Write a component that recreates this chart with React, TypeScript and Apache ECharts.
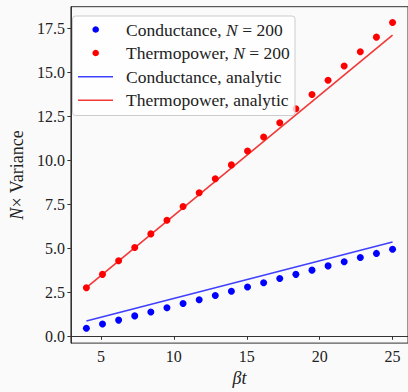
import React, { useEffect, useRef } from "react";
import * as echarts from "echarts";

const betaT = [4, 5.105, 6.211, 7.316, 8.421, 9.526, 10.632, 11.737, 12.842, 13.947, 15.053, 16.158, 17.263, 18.368, 19.474, 20.579, 21.684, 22.789, 23.895, 25];
const conductanceN200 = [0.46, 0.7, 0.92, 1.16, 1.38, 1.62, 1.86, 2.08, 2.32, 2.56, 2.8, 3.04, 3.28, 3.52, 3.76, 4.0, 4.24, 4.48, 4.71, 4.95];
const thermopowerN200 = [2.76, 3.52, 4.29, 5.05, 5.82, 6.59, 7.38, 8.16, 8.95, 9.74, 10.53, 11.33, 12.14, 12.93, 13.74, 14.55, 15.36, 16.17, 17.0, 17.83];
const analyticT = [4, 25];
const conductanceAnalytic = [0.87, 5.36];
const thermopowerAnalytic = [2.76, 17.11];
const xTicks = [5, 10, 15, 20, 25];
const yTicks = [0, 2.5, 5, 7.5, 10, 12.5, 15, 17.5];
const legendLabels = ["Conductance, {i|N} = 200", "Thermopower, {i|N} = 200", "Conductance, analytic", "Thermopower, analytic"];

const FONT = "Liberation Serif, Times New Roman, serif";
const TXT = "#222";
const BLUE = "#0000ff";
const RED = "#ff0000";
const BLUE_LINE = "rgba(0,0,255,0.75)";
const RED_LINE = "rgba(240,0,0,0.78)";

export default function App() {
  const ref = useRef<HTMLDivElement>(null);
  useEffect(() => {
    if (!ref.current) return;
    const chart = echarts.init(ref.current, null, { renderer: "svg" });
    const rowY = [29.5, 53, 76.7, 100.2];
    const LFS = 17.5;
    const rich = {
      n: { fontSize: LFS, fontFamily: FONT, fill: TXT, color: TXT },
      i: { fontStyle: "italic", fontSize: LFS, fontFamily: FONT, fill: TXT, color: TXT },
    };
    const legendEls: any[] = [
      {
        type: "rect",
        shape: { x: 72.5, y: 16, width: 222.5, height: 99.5, r: 3 },
        style: { fill: "rgba(255,255,255,0.8)", stroke: "#cccccc", lineWidth: 1 },
        z: 100,
      },
      { type: "circle", shape: { cx: 95.7, cy: rowY[0], r: 3.3 }, style: { fill: BLUE }, z: 101 },
      { type: "circle", shape: { cx: 95.7, cy: rowY[1], r: 3.3 }, style: { fill: RED }, z: 101 },
      { type: "line", shape: { x1: 78, y1: rowY[2], x2: 113, y2: rowY[2] }, style: { stroke: BLUE_LINE, lineWidth: 1.6 }, z: 101 },
      { type: "line", shape: { x1: 78, y1: rowY[3], x2: 113, y2: rowY[3] }, style: { stroke: RED_LINE, lineWidth: 1.6 }, z: 101 },
    ];
    legendLabels.forEach((t, k) => {
      const parts = t.split(/(\{i\|N\})/).filter((s) => s.length > 0);
      const txt = parts.map((p) => (p === "{i|N}" ? p : "{n|" + p + "}")).join("");
      legendEls.push({
        type: "text",
        x: 126,
        y: rowY[k],
        z: 101,
        style: {
          text: txt,
          fontSize: LFS,
          fontFamily: FONT,
          fill: TXT,
          verticalAlign: "middle",
          align: "left",
          rich,
        },
      });
    });

    chart.setOption({
      animation: false,
      backgroundColor: "#fafafa",
      textStyle: { fontFamily: FONT },
      grid: {
        left: 63.3,
        top: 6.7,
        right: -3,
        bottom: 39.3,
        show: true,
        borderColor: "#333",
        borderWidth: 1,
        backgroundColor: "#fafafa",
      },
      xAxis: {
        type: "value",
        min: 2.938,
        max: 26.06,
        name: "βt",
        nameLocation: "middle",
        nameGap: 24,
        nameTextStyle: { fontFamily: FONT, fontSize: 18, fontStyle: "italic", color: TXT },
        axisLine: { show: true, lineStyle: { color: "#333", width: 1 } },
        axisTick: { show: true, inside: false, length: 3.5, customValues: xTicks, lineStyle: { color: "#333" } },
        axisLabel: { customValues: xTicks, margin: 5, fontFamily: FONT, fontSize: 16, color: TXT },
        splitLine: { show: false },
      },
      yAxis: {
        type: "value",
        min: -0.387,
        max: 18.73,
        name: "{i|N}{n|× Variance}",
        nameLocation: "middle",
        nameGap: 39,
        nameRotate: 90,
        nameTextStyle: {
          fontFamily: FONT,
          fontSize: 18,
          color: TXT,
          rich: {
            i: { fontStyle: "italic", fontFamily: FONT, fontSize: 18, color: TXT },
            n: { fontFamily: FONT, fontSize: 18, color: TXT },
          },
        },
        axisLine: { show: true, lineStyle: { color: "#333", width: 1 } },
        axisTick: { show: true, inside: false, length: 3.5, customValues: yTicks, lineStyle: { color: "#333" } },
        axisLabel: { customValues: yTicks, margin: 6, fontFamily: FONT, fontSize: 16, color: TXT, formatter: (v: number) => v.toFixed(1) },
        splitLine: { show: false },
      },
      series: [
        {
          name: "Conductance, analytic",
          type: "line",
          data: analyticT.map((x, i) => [x, conductanceAnalytic[i]]),
          showSymbol: false,
          symbol: "none",
          lineStyle: { color: BLUE_LINE, width: 1.6 },
          z: 2,
        },
        {
          name: "Thermopower, analytic",
          type: "line",
          data: analyticT.map((x, i) => [x, thermopowerAnalytic[i]]),
          showSymbol: false,
          symbol: "none",
          lineStyle: { color: RED_LINE, width: 1.6 },
          z: 2,
        },
        {
          name: "Conductance, N = 200",
          type: "scatter",
          data: betaT.map((x, i) => [x, conductanceN200[i]]),
          symbolSize: 7,
          itemStyle: { color: BLUE, opacity: 1 },
          z: 3,
        },
        {
          name: "Thermopower, N = 200",
          type: "scatter",
          data: betaT.map((x, i) => [x, thermopowerN200[i]]),
          symbolSize: 7,
          itemStyle: { color: RED, opacity: 1 },
          z: 3,
        },
      ],
      graphic: legendEls,
    });
    return () => chart.dispose();
  }, []);
  return (
    <div
      ref={ref}
      style={{ position: "absolute", left: 0, top: 0, width: 408, height: 392, background: "#fafafa" }}
    />
  );
}
